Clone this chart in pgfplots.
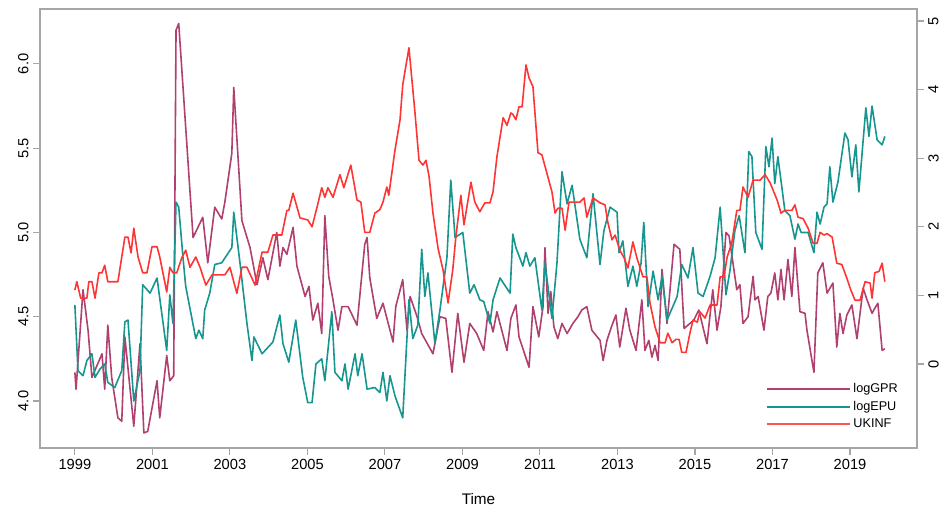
\documentclass[border=0pt]{standalone}
\usepackage{pgfplots}
\pgfplotsset{compat=1.18}
\usepackage{fontspec}
\setmainfont{Liberation Sans}
\definecolor{cgpr}{HTML}{B0406F}
\definecolor{cepu}{HTML}{17958F}
\definecolor{cinf}{HTML}{FF3535}
\begin{document}
\begin{tikzpicture}
\pgfplotsset{every axis/.append style={
  scale only axis, width=657.75pt, height=329.25pt,
  xmin=1998.10, xmax=2020.73,
  axis line style={gray!70, line width=0.8pt},
  tick style={gray!70, line width=0.8pt},
  tick align=outside, major tick length=5pt,
  ticklabel style={font=\fontsize{11}{12}\selectfont},
  /pgf/number format/assume math mode=true,
}}
\begin{axis}[
  ymin=3.721, ymax=6.326,
  xtick={1999,2001,...,2019}, xticklabel style={/pgf/number format/1000 sep={}},
  ytick={4,4.5,5,5.5,6}, yticklabel style={rotate=90, /pgf/number format/fixed, /pgf/number format/fixed zerofill, /pgf/number format/precision=1},
  xlabel={Time}, xlabel style={font=\fontsize{11.5}{12}\selectfont, yshift=-11pt},
  axis y line*=left, axis x line*=bottom,
]
\addplot[cgpr, line width=1.2pt, line join=round] coordinates {
(1999.00,4.17)(1999.03,4.07)(1999.21,4.66)(1999.34,4.42)(1999.44,4.14)(1999.70,4.28)(1999.77,4.07)(1999.85,4.45)(1999.95,4.14)
(2000.11,3.90)(2000.21,3.88)(2000.29,4.38)(2000.52,3.85)(2000.68,4.34)(2000.78,3.81)(2000.88,3.82)(2001.12,4.12)(2001.19,3.90)
(2001.37,4.27)(2001.45,4.12)(2001.55,4.15)(2001.61,6.20)(2001.68,6.24)(2002.05,4.97)(2002.30,5.09)(2002.43,4.82)(2002.61,5.15)
(2002.79,5.08)(2002.87,5.18)(2003.05,5.47)(2003.10,5.86)(2003.31,5.07)(2003.52,4.91)(2003.70,4.69)(2003.85,4.85)(2003.98,4.72)
(2004.21,5.00)(2004.29,4.80)(2004.37,4.91)(2004.47,4.87)(2004.63,5.03)(2004.73,4.80)(2004.94,4.62)(2005.04,4.68)(2005.14,4.48)
(2005.27,4.58)(2005.37,4.40)(2005.45,5.10)(2005.55,4.74)(2005.66,4.60)(2005.79,4.42)(2005.89,4.56)(2006.05,4.56)(2006.28,4.45)
(2006.48,4.93)(2006.54,4.97)(2006.61,4.73)(2006.79,4.49)(2006.95,4.58)(2007.21,4.35)(2007.28,4.56)(2007.46,4.72)(2007.57,4.42)
(2007.65,4.62)(2007.83,4.50)(2007.95,4.40)(2008.24,4.28)(2008.42,4.50)(2008.57,4.49)(2008.73,4.17)(2008.88,4.52)(2009.04,4.23)
(2009.19,4.46)(2009.37,4.40)(2009.55,4.30)(2009.66,4.53)(2009.79,4.41)(2009.89,4.53)(2010.15,4.30)(2010.25,4.49)(2010.38,4.57)
(2010.46,4.38)(2010.72,4.20)(2010.82,4.56)(2010.97,4.38)(2011.08,4.56)(2011.13,4.91)(2011.21,4.52)(2011.28,4.65)(2011.36,4.44)
(2011.46,4.37)(2011.57,4.46)(2011.70,4.40)(2011.85,4.46)(2011.98,4.50)(2012.08,4.54)(2012.21,4.56)(2012.34,4.42)(2012.55,4.36)
(2012.63,4.24)(2012.73,4.36)(2012.86,4.45)(2012.96,4.51)(2013.06,4.32)(2013.22,4.55)(2013.32,4.42)(2013.48,4.30)(2013.63,4.60)
(2013.71,4.30)(2013.81,4.36)(2013.89,4.26)(2013.97,4.33)(2014.05,4.24)(2014.15,4.78)(2014.28,4.46)(2014.46,4.93)(2014.61,4.90)
(2014.72,4.43)(2014.97,4.48)(2015.10,4.54)(2015.31,4.34)(2015.46,4.66)(2015.57,4.42)(2015.67,4.56)(2015.80,5.00)(2015.88,4.98)
(2015.98,4.82)(2016.08,4.66)(2016.16,4.69)(2016.24,4.46)(2016.37,4.50)(2016.50,4.74)(2016.55,4.60)(2016.63,4.62)(2016.78,4.42)
(2016.88,4.62)(2016.96,4.64)(2017.06,4.76)(2017.14,4.60)(2017.22,4.78)(2017.30,4.60)(2017.40,4.84)(2017.50,4.62)(2017.58,4.91)
(2017.71,4.53)(2017.84,4.52)(2017.89,4.42)(2018.07,4.17)(2018.17,4.76)(2018.30,4.82)(2018.41,4.64)(2018.56,4.70)(2018.66,4.32)
(2018.74,4.52)(2018.82,4.40)(2018.92,4.51)(2019.05,4.57)(2019.18,4.37)(2019.34,4.67)(2019.44,4.60)(2019.57,4.52)(2019.64,4.55)
(2019.72,4.58)(2019.83,4.30)(2019.90,4.31)
};
\addplot[cepu, line width=1.2pt, line join=round] coordinates {
(1999.00,4.57)(1999.08,4.18)(1999.21,4.15)(1999.31,4.24)(1999.44,4.28)(1999.52,4.14)(1999.65,4.19)(1999.77,4.22)(1999.85,4.11)
(2000.03,4.08)(2000.21,4.18)(2000.29,4.47)(2000.37,4.48)(2000.52,4.00)(2000.68,4.18)(2000.75,4.69)(2000.94,4.64)(2001.12,4.73)
(2001.37,4.30)(2001.45,4.63)(2001.53,4.46)(2001.61,5.18)(2001.68,5.15)(2001.79,4.85)(2001.86,4.68)(2002.12,4.37)(2002.20,4.42)
(2002.30,4.37)(2002.35,4.54)(2002.48,4.64)(2002.61,4.81)(2002.79,4.82)(2003.05,4.91)(2003.10,5.12)(2003.26,4.82)(2003.44,4.46)
(2003.57,4.24)(2003.62,4.38)(2003.83,4.28)(2004.11,4.35)(2004.29,4.51)(2004.37,4.34)(2004.52,4.23)(2004.70,4.48)(2004.88,4.14)
(2005.01,3.99)(2005.12,3.99)(2005.22,4.22)(2005.37,4.25)(2005.45,4.12)(2005.63,4.53)(2005.71,4.17)(2005.89,4.12)(2005.97,4.22)
(2006.05,4.07)(2006.23,4.28)(2006.30,4.15)(2006.41,4.28)(2006.54,4.07)(2006.74,4.08)(2006.87,4.05)(2006.95,4.17)(2007.05,4.00)
(2007.13,4.15)(2007.26,4.03)(2007.46,3.90)(2007.62,4.60)(2007.72,4.37)(2007.85,4.45)(2007.95,4.90)(2008.03,4.62)(2008.11,4.76)
(2008.29,4.34)(2008.42,4.54)(2008.60,4.85)(2008.70,5.31)(2008.81,4.97)(2009.01,5.00)(2009.19,4.64)(2009.30,4.69)(2009.45,4.60)
(2009.55,4.59)(2009.71,4.46)(2009.79,4.60)(2009.97,4.73)(2010.23,4.64)(2010.30,4.99)(2010.38,4.91)(2010.56,4.80)(2010.64,4.88)
(2010.74,4.80)(2010.87,4.85)(2011.05,4.54)(2011.13,4.82)(2011.31,4.49)(2011.44,4.82)(2011.57,5.36)(2011.70,5.17)(2011.83,5.28)
(2012.03,4.96)(2012.21,4.85)(2012.37,5.23)(2012.55,4.81)(2012.65,5.01)(2012.81,5.15)(2012.99,5.12)(2013.04,4.88)(2013.14,4.95)
(2013.27,4.68)(2013.40,4.80)(2013.50,4.68)(2013.61,4.82)(2013.68,5.06)(2013.79,4.56)(2013.92,4.77)(2014.05,4.60)(2014.15,4.74)
(2014.28,4.48)(2014.54,4.62)(2014.66,4.81)(2014.82,4.73)(2014.95,4.91)(2015.08,4.64)(2015.21,4.62)(2015.39,4.74)(2015.52,4.85)
(2015.65,5.15)(2015.80,4.63)(2015.90,4.77)(2016.03,5.01)(2016.14,5.10)(2016.29,4.88)(2016.39,5.48)(2016.47,5.45)(2016.57,5.00)
(2016.73,4.90)(2016.83,5.51)(2016.91,5.39)(2016.99,5.56)(2017.06,5.29)(2017.14,5.45)(2017.32,5.13)(2017.45,5.10)(2017.58,4.96)
(2017.66,5.05)(2017.74,5.00)(2017.92,5.00)(2018.07,4.88)(2018.15,5.12)(2018.23,5.05)(2018.33,5.15)(2018.41,5.17)(2018.48,5.39)
(2018.56,5.18)(2018.69,5.30)(2018.87,5.59)(2018.95,5.55)(2019.05,5.33)(2019.15,5.52)(2019.23,5.24)(2019.41,5.74)(2019.49,5.57)
(2019.57,5.75)(2019.70,5.55)(2019.83,5.52)(2019.90,5.57)
};
\end{axis}
\begin{axis}[
  ymin=-1.224, ymax=5.175,
  axis x line=none, axis y line*=right,
  ytick={0,1,2,3,4,5}, yticklabel style={rotate=90},
  legend style={draw=none, fill=none, at={(0.986,0.16)}, anchor=north east,
    font=\fontsize{9.5}{11}\selectfont, row sep=1pt},
  legend cell align=left,
  legend image code/.code={\draw[#1] (0pt,0pt) -- (62pt,0pt);},
]
\addlegendimage{cgpr, line width=1.2pt}\addlegendentry{logGPR}
\addlegendimage{cepu, line width=1.2pt}\addlegendentry{logEPU}
\addlegendimage{cinf!85, line width=1.6pt}\addlegendentry{UKINF}
\addplot[cinf, line width=1.2pt, line join=round, forget plot] coordinates {
(1999.00,1.08)(1999.05,1.20)(1999.15,0.96)(1999.31,0.96)(1999.36,1.20)(1999.44,1.20)(1999.52,0.96)(1999.62,1.33)(1999.70,1.33)
(1999.77,1.44)(1999.85,1.20)(2000.11,1.20)(2000.29,1.85)(2000.37,1.85)(2000.45,1.62)(2000.52,1.98)(2000.63,1.56)(2000.75,1.33)
(2000.86,1.33)(2000.99,1.71)(2001.12,1.71)(2001.19,1.56)(2001.37,1.05)(2001.45,1.41)(2001.53,1.33)(2001.63,1.33)(2001.76,1.55)
(2001.86,1.66)(2001.97,1.41)(2002.12,1.56)(2002.23,1.41)(2002.38,1.15)(2002.54,1.30)(2002.87,1.30)(2003.00,1.41)(2003.18,1.03)
(2003.31,1.41)(2003.44,1.41)(2003.65,1.15)(2003.83,1.63)(2003.98,1.63)(2004.11,1.88)(2004.24,1.88)(2004.34,1.88)(2004.47,2.24)
(2004.52,2.24)(2004.63,2.49)(2004.81,2.13)(2005.01,2.10)(2005.12,2.00)(2005.25,2.29)(2005.37,2.57)(2005.45,2.43)(2005.53,2.57)
(2005.66,2.43)(2005.84,2.76)(2005.94,2.57)(2006.12,2.90)(2006.28,2.39)(2006.38,2.36)(2006.48,1.92)(2006.61,1.92)(2006.74,2.20)
(2006.87,2.25)(2006.95,2.36)(2007.05,2.58)(2007.10,2.46)(2007.26,3.12)(2007.39,3.56)(2007.46,4.07)(2007.62,4.61)(2007.77,3.70)
(2007.88,2.97)(2007.98,2.90)(2008.06,2.97)(2008.14,2.73)(2008.24,2.20)(2008.37,1.69)(2008.50,1.37)(2008.63,0.89)(2008.75,1.37)
(2008.83,1.85)(2008.96,2.46)(2009.04,2.03)(2009.22,2.65)(2009.32,2.36)(2009.45,2.22)(2009.58,2.35)(2009.71,2.35)(2009.79,2.51)
(2009.89,3.02)(2010.05,3.59)(2010.15,3.48)(2010.25,3.66)(2010.30,3.64)(2010.38,3.56)(2010.46,3.75)(2010.54,3.75)(2010.64,4.36)
(2010.72,4.17)(2010.82,4.04)(2010.95,3.08)(2011.05,3.05)(2011.18,2.78)(2011.31,2.51)(2011.39,2.20)(2011.46,2.27)(2011.57,2.27)
(2011.65,1.95)(2011.75,2.36)(2012.03,2.36)(2012.14,2.42)(2012.21,2.14)(2012.37,2.42)(2012.55,2.35)(2012.68,2.32)(2012.75,2.07)
(2012.86,1.81)(2012.94,1.88)(2013.06,1.66)(2013.17,1.55)(2013.27,1.40)(2013.40,1.78)(2013.50,1.55)(2013.66,1.27)(2013.76,1.27)
(2013.84,0.89)(2013.97,0.54)(2014.10,0.31)(2014.23,0.31)(2014.30,0.45)(2014.41,0.31)(2014.51,0.36)(2014.59,0.36)(2014.66,0.17)
(2014.77,0.17)(2014.87,0.45)(2014.95,0.64)(2015.06,0.61)(2015.13,0.76)(2015.26,0.67)(2015.39,0.86)(2015.57,0.86)(2015.65,1.27)
(2015.75,1.27)(2015.83,1.56)(2015.95,1.76)(2016.08,2.24)(2016.16,2.24)(2016.24,2.58)(2016.37,2.43)(2016.50,2.68)(2016.68,2.68)
(2016.81,2.76)(2016.94,2.64)(2017.12,2.39)(2017.22,2.20)(2017.32,2.24)(2017.50,2.24)(2017.58,2.32)(2017.66,2.14)(2017.79,2.12)
(2017.92,1.98)(2018.05,1.76)(2018.15,1.76)(2018.23,1.92)(2018.33,1.88)(2018.41,1.90)(2018.54,1.85)(2018.66,1.47)(2018.79,1.45)
(2018.92,1.25)(2019.02,1.08)(2019.13,0.93)(2019.26,0.93)(2019.39,1.20)(2019.52,1.18)(2019.57,0.96)(2019.64,1.33)(2019.75,1.35)
(2019.83,1.47)(2019.90,1.20)
};
\end{axis}
\draw[gray!70, line width=0.8pt] (0,0) rectangle (657.75pt,329.25pt);
\path[use as bounding box] (-30pt,-48.75pt) rectangle (681pt,336pt);
\end{tikzpicture}
\end{document}
